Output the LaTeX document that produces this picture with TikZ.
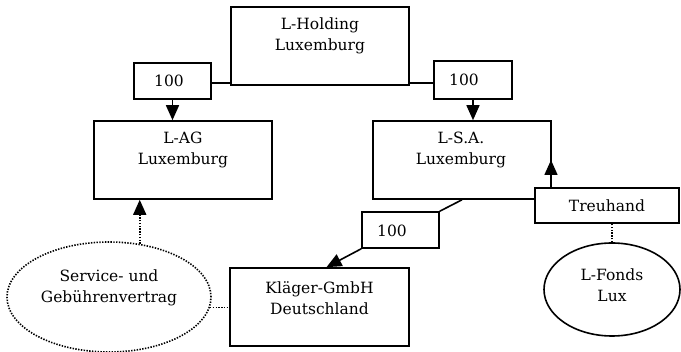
\documentclass[tikz,border=0pt]{standalone}
\usepackage{fontspec}
\setmainfont{DejaVu Serif}
\usetikzlibrary{arrows.meta,shapes.geometric}
\begin{document}
\begin{tikzpicture}[x=1pt,y=-1pt,
  every node/.style={font=\fontsize{15.5}{21}\selectfont},
  box/.style={draw,line width=1.6pt,fill=white,inner sep=0pt},
  txt/.style={align=center,inner sep=0pt},
  arr/.style={line width=1.6pt,-{Triangle[width=13pt,length=15pt]}},
  plain/.style={line width=1.6pt},
  dotl/.style={line width=1.6pt,dash pattern=on 1.4pt off 1.4pt},
  dotarr/.style={dotl,-{Triangle[width=13pt,length=15pt,sep=0pt]}}]
\useasboundingbox (0,0) rectangle (681,352);
% boxes
\node[box,line width=2.2pt,minimum width=178pt,minimum height=78pt] (hold) at (320,46) {};
\node[txt] (holdt) at (320,36) {L-Holding\\Luxemburg};
\node[box,minimum width=77pt,minimum height=36pt] (l100) at (172.5,81) {};
\node[txt] (l100t) at (169,81) {100};
\node[box,minimum width=78pt,minimum height=38pt] (r100) at (473,80) {};
\node[txt] (r100t) at (464,80) {100};
\node[box,minimum width=178pt,minimum height=78pt] (lag) at (183,160) {};
\node[txt] (lagt) at (183,150) {L-AG\\Luxemburg};
\node[box,minimum width=178pt,minimum height=78pt] (lsa) at (462,160) {};
\node[txt] (lsat) at (461,150) {L-S.A.\\Luxemburg};
\node[box,minimum width=77pt,minimum height=36pt] (low100) at (400.5,230) {};
\node[txt] (low100t) at (392,231) {100};
\node[box,minimum width=144pt,minimum height=35pt] (treu) at (607,205.5) {};
\node[txt] (treut) at (607,205.5) {Treuhand};
\node[box,minimum width=179pt,minimum height=78pt] (kl) at (319.5,307) {};
\node[txt] (klt) at (319.5,298.5) {Kläger-GmbH\\Deutschland};
\node[ellipse,draw,line width=1.6pt,minimum width=136pt,minimum height=93pt,inner sep=0pt] (fonds) at (612,289.5) {};
\node[txt] (fondst) at (612,285.5) {L-Fonds\\Lux};
\node[ellipse,dotl,draw,minimum width=204pt,minimum height=110pt,inner sep=0pt] (serv) at (109,297) {};
\node[txt] (servt) at (109,287.5) {Service- und\\Gebührenvertrag};
% connectors
\draw[plain] (l100.east |- 0,83) -- (hold.west |- 0,83);
\draw[plain] (hold.east |- 0,83) -- (r100.west |- 0,83);
\draw[arr] (l100.south) -- (l100.south |- lag.north);
\draw[arr] (r100.south) -- (r100.south |- lsa.north);
\draw[plain] (lsa.south) -- (low100.north east);
\draw[arr] (low100.south west) -- ([xshift=7pt]kl.north);
\coordinate (tt) at (551,160);
\draw[arr] (treu.north -| tt) -- (tt);
\draw[dotl] (fonds.north) -- (fonds.north |- treu.south);
\draw[dotarr] (serv.60) -- (serv.60 |- lag.south);
\draw[dotl] (serv.-6) -- (serv.-6 -| kl.west);
\end{tikzpicture}
\end{document}
